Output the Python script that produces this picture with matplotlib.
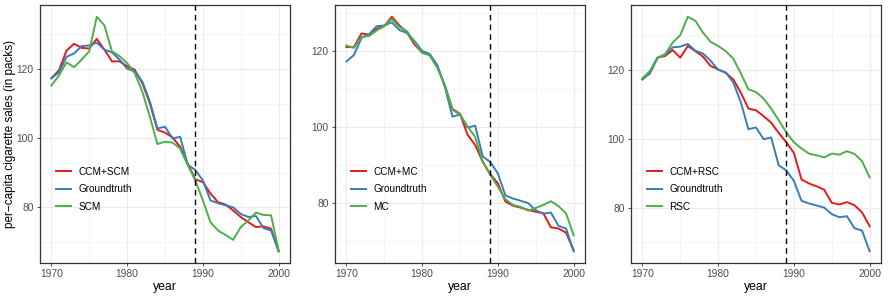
import numpy as np
import matplotlib.pyplot as plt

plt.rcParams['font.family'] = ['Liberation Sans', 'DejaVu Sans']

# Data
years = list(range(1970, 2001))

groundtruth = [117.3, 119.0, 123.5, 124.5, 126.6, 126.8, 127.6, 125.6, 124.8, 122.7,
               120.1, 119.3, 116.4, 110.6, 102.8, 103.3, 99.9, 100.4, 92.3, 90.8,
               87.8, 82.0, 81.2, 80.6, 80.0, 78.1, 77.2, 77.5, 74.0, 73.3, 67.3]

ccm_scm = [117.3, 119.6, 125.3, 127.3, 126.1, 125.9, 128.7, 125.6, 122.2, 122.2,
           120.8, 119.8, 115.9, 110.1, 102.4, 101.6, 100.2, 97.5, 92.7, 88.1,
           87.3, 84.0, 81.5, 80.8, 79.1, 77.2, 75.7, 74.3, 74.5, 73.8, 67.3]
scm = [115.2, 118.1, 121.9, 120.5, 122.7, 125.1, 135.1, 132.6, 125.1, 123.7,
       121.7, 118.8, 113.5, 106.2, 98.3, 99.0, 98.7, 97.0, 92.2, 87.8,
       82.0, 75.7, 73.3, 72.0, 70.6, 74.3, 76.2, 78.5, 77.8, 77.7, 67.5]

ccm_mc = [121.1, 121.1, 124.7, 124.4, 125.9, 126.6, 129.1, 126.8, 125.0, 121.8,
          119.7, 119.1, 116.0, 110.9, 104.8, 103.5, 98.0, 95.3, 90.9, 87.6,
          85.2, 80.4, 79.3, 78.8, 78.2, 77.7, 77.3, 73.6, 73.3, 72.2, 67.6]
mc = [121.5, 120.9, 123.8, 124.0, 125.5, 126.6, 128.5, 126.4, 125.3, 122.4,
      119.6, 118.9, 115.6, 111.2, 104.6, 103.3, 100.2, 97.4, 90.9, 87.4,
      84.3, 81.0, 79.5, 79.0, 78.0, 78.7, 79.5, 80.5, 79.2, 77.3, 71.5]

ccm_rsc = [117.3, 119.4, 123.6, 124.1, 125.8, 123.6, 127.0, 125.5, 123.9, 121.2,
           120.2, 119.2, 117.3, 113.4, 108.8, 108.3, 106.6, 104.7, 101.7, 99.0,
           95.9, 88.2, 87.0, 86.2, 85.2, 81.4, 80.9, 81.6, 80.7, 78.6, 74.6]
rsc = [117.6, 119.7, 123.6, 124.6, 128.0, 130.1, 135.5, 134.3, 130.9, 128.2,
       127.0, 125.5, 123.3, 119.0, 114.4, 113.6, 111.7, 108.8, 105.4, 101.9,
       99.0, 97.2, 95.7, 95.2, 94.6, 95.7, 95.4, 96.4, 95.6, 93.5, 88.8]

panels = [
    (['CCM+SCM', 'Groundtruth', 'SCM'], [ccm_scm, groundtruth, scm]),
    (['CCM+MC', 'Groundtruth', 'MC'], [ccm_mc, groundtruth, mc]),
    (['CCM+RSC', 'Groundtruth', 'RSC'], [ccm_rsc, groundtruth, rsc]),
]
colors = ['#E41A1C', '#377EB8', '#4DAF4A']
intervention = 1989

fig = plt.figure(figsize=(8.88, 2.96), dpi=100)
lefts = [40 / 888, 335 / 888, 631 / 888]
bottom, height = 33 / 296, 258 / 296
width = 250 / 888

for i, (labels, series) in enumerate(panels):
    ax = fig.add_axes([lefts[i], bottom, width, height])
    for lab, vals, col in zip(labels, series, colors):
        ax.plot(years, vals, color=col, lw=1.4, label=lab)
    ax.axvline(intervention, color='black', lw=1.0, ls=(0, (4, 3)))

    # ggplot-style 5% expansion
    allv = np.concatenate([np.array(s) for s in series])
    lo, hi = allv.min(), allv.max()
    pad = (hi - lo) * 0.05
    ax.set_ylim(lo - pad, hi + pad)
    ax.set_xlim(1970 - 1.5, 2000 + 1.5)

    ax.set_xticks([1970, 1980, 1990, 2000])
    ax.set_xticks([1975, 1985, 1995], minor=True)
    ax.set_yticks([80, 100, 120])
    ax.set_yticks([70, 90, 110, 130], minor=True)
    ax.grid(which='major', color='#EBEBEB', lw=0.8)
    ax.grid(which='minor', color='#F2F2F2', lw=0.5)
    ax.set_axisbelow(True)
    ax.tick_params(which='major', length=2.5, width=0.6, color='#333333',
                   labelsize=7.4, labelcolor='#4D4D4D', pad=2)
    ax.tick_params(which='minor', length=0)
    for sp in ax.spines.values():
        sp.set_color('#333333')
        sp.set_linewidth(0.9)

    ax.set_xlabel('year', fontsize=8.8, labelpad=1)
    if i == 0:
        ax.set_ylabel('per\u2212capita cigarette sales (in packs)', fontsize=8.5)
        ax.yaxis.set_label_coords(-0.095, 0.5)

    ax.legend(loc='center left', bbox_to_anchor=(0.045, 0.285), frameon=False,
              fontsize=7.2, handlelength=1.5, handletextpad=0.7,
              labelspacing=0.75, borderpad=0)

fig.savefig('out.png', dpi=100)
